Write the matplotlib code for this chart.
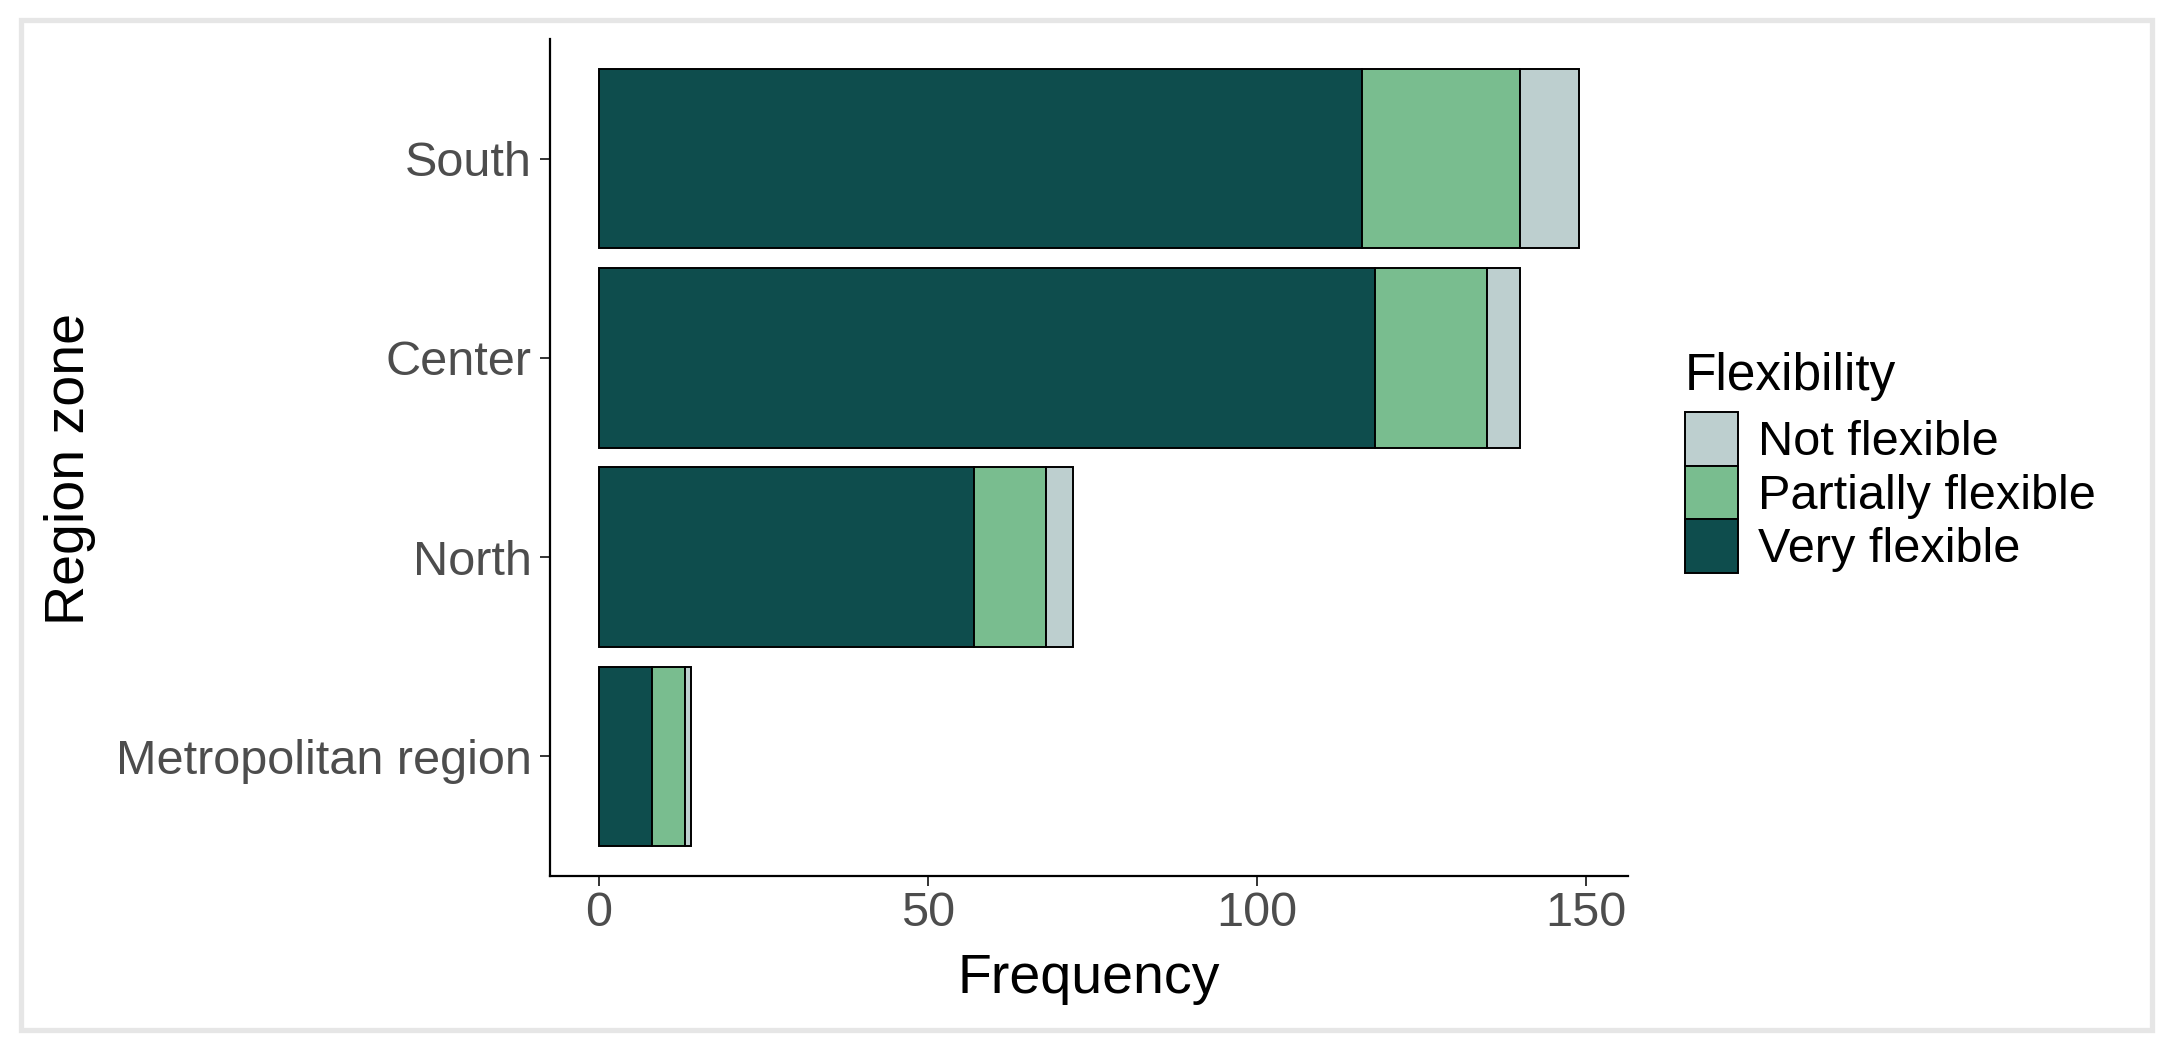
import matplotlib
matplotlib.use("Agg")
import matplotlib.pyplot as plt
from matplotlib.patches import Rectangle, Patch
import numpy as np

# ---- data ----
regions = ["Metropolitan region", "North", "Center", "South"]
very_flexible = [8, 57, 118, 116]
partially_flexible = [5, 11, 17, 24]
not_flexible = [1, 4, 5, 9]
legend_levels = ["Not flexible", "Partially flexible", "Very flexible"]
xticks = [0, 50, 100, 150]

colors = {"Very flexible": "#0e4d4d",
          "Partially flexible": "#79bd8f",
          "Not flexible": "#bdcfcf"}

plt.rcParams['font.family'] = ['Liberation Sans', 'DejaVu Sans']

W, H = 2171, 1050
fig = plt.figure(figsize=(W / 100, H / 100), dpi=100)

# outer light-grey frame
fig.patches.append(Rectangle((20.5 / W, 20.5 / H), (2152 - 20.5) / W, (1030 - 20.5) / H,
                             transform=fig.transFigure, fill=False,
                             edgecolor="#e6e6e6", linewidth=3.8))

ax_l, ax_r, ax_t, ax_b = 550, 1628, 39, 876
ax = fig.add_axes([ax_l / W, 1 - ax_b / H, (ax_r - ax_l) / W, (ax_b - ax_t) / H])

y = np.arange(1, len(regions) + 1)
left = np.zeros(len(regions))
for name, vals in [("Very flexible", very_flexible),
                   ("Partially flexible", partially_flexible),
                   ("Not flexible", not_flexible)]:
    ax.barh(y, vals, left=left, height=0.9, color=colors[name],
            edgecolor="black", linewidth=1.4, zorder=3)
    left += np.array(vals, dtype=float)

tmax = left.max()
ax.set_xlim(-0.05 * tmax, tmax * 1.05)
ax.set_ylim(0.4, len(regions) + 0.6)

ax.set_yticks(y)
ax.set_yticklabels(regions)
ax.set_xticks(xticks)
ax.set_xticklabels([str(v) for v in xticks])

for s in ["top", "right"]:
    ax.spines[s].set_visible(False)
for s in ["left", "bottom"]:
    ax.spines[s].set_linewidth(1.6)
    ax.spines[s].set_color("black")

ax.tick_params(axis="both", length=7, width=1.4, color="#333333",
               labelcolor="#4d4d4d", labelsize=35)
ax.tick_params(axis="x", pad=4)
ax.tick_params(axis="y", pad=6)

ax.set_xlabel("Frequency", fontsize=40, color="black")
ax.set_ylabel("Region zone", fontsize=40, color="black")
ax.xaxis.label.set_va("center")
ax.yaxis.label.set_va("center")
ax.xaxis.set_label_coords(0.5, (ax_b - 979) / (ax_b - ax_t))
ax.yaxis.set_label_coords((70 - ax_l) / (ax_r - ax_l), (ax_b - 469) / (ax_b - ax_t))

handles = [Patch(facecolor=colors[k], edgecolor="black", linewidth=1.4) for k in legend_levels]
leg = fig.legend(handles, legend_levels, title="Flexibility", loc="upper left",
                 bbox_to_anchor=(1685 / W, 1 - 352 / H), frameon=False,
                 fontsize=35, title_fontsize=37, handlelength=1.1, handleheight=1.32,
                 handletextpad=0.4, labelspacing=0.0, borderpad=0, borderaxespad=0,
                 alignment="left")
leg._legend_box.sep = 8

fig.savefig("out.png", dpi=100)
